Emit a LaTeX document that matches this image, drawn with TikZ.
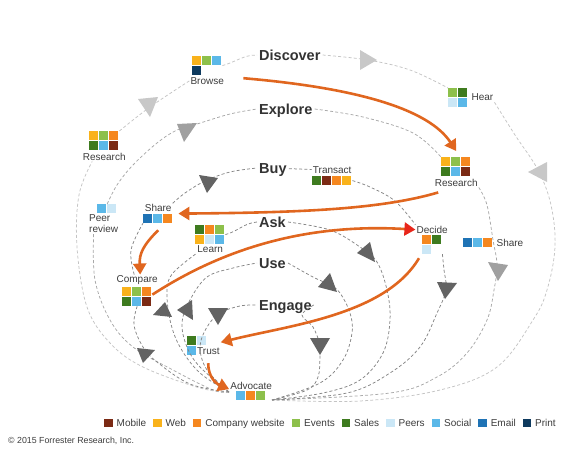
\documentclass[tikz,border=0pt]{standalone}
\usepackage{fontspec}
\setmainfont{Liberation Sans}
\usetikzlibrary{arrows.meta,positioning}

\definecolor{mob}{HTML}{7B2A14}
\definecolor{web}{HTML}{F9B21B}
\definecolor{co}{HTML}{F5871F}
\definecolor{ev}{HTML}{8DC04B}
\definecolor{sa}{HTML}{3E7B1F}
\definecolor{pe}{HTML}{CBE7F6}
\definecolor{so}{HTML}{5BB8E8}
\definecolor{em}{HTML}{1F73B5}
\definecolor{pr}{HTML}{0E3A5E}
\definecolor{jorange}{HTML}{E0661F}
\definecolor{jred}{HTML}{E8261A}
\definecolor{lbltxt}{HTML}{3C3C3C}
\definecolor{stgtxt}{HTML}{333333}
\definecolor{dlight}{HTML}{C4C4C4}
\definecolor{dmid}{HTML}{A8A8A8}
\definecolor{ddark}{HTML}{858585}
\definecolor{alight}{HTML}{C8C8C8}
\definecolor{amid}{HTML}{A0A0A0}
\definecolor{adark}{HTML}{636363}

\newcommand\sq[1]{\textcolor{#1}{\rule{8.8pt}{8.8pt}}\kern1.2pt}

\begin{document}
\begin{tikzpicture}[x=1pt,y=1pt,
  icon/.style={inner sep=0pt,anchor=north west,align=left,font=\fontsize{8}{10}\selectfont},
  lbl/.style={inner sep=1pt,text=lbltxt,font=\fontsize{10}{11}\selectfont},
  stage/.style={inner sep=2pt,anchor=west,text=stgtxt,text height=10.4pt,text depth=0pt,
    font=\fontsize{14.5}{16}\selectfont\bfseries},
  dl/.style={dash pattern=on 3pt off 2.2pt,line width=.75pt},
  jour/.style={draw=jorange,line width=2.6pt,-{Triangle[length=11pt,width=13pt]}},
  keybox/.style={inner sep=0pt,minimum size=8.6pt},
  keytxt/.style={inner sep=0pt,text height=7.2pt,text depth=0pt,text=lbltxt,font=\fontsize{10}{11}\selectfont}]
  \useasboundingbox (0,0) rectangle (570,-448);

  % channel icons
  \node[icon] (brwi)  at (192,-56)  {\sq{web}\sq{ev}\sq{so}\\\sq{pr}};
  \node[icon] (resLi) at (89,-131)  {\sq{web}\sq{ev}\sq{co}\\\sq{sa}\sq{so}\sq{mob}};
  \node[icon] (heari) at (448,-88)  {\sq{ev}\sq{sa}\\\sq{pe}\sq{so}};
  \node[icon] (resRi) at (441,-157) {\sq{web}\sq{ev}\sq{co}\\\sq{sa}\sq{so}\sq{mob}};
  \node[icon] (trni)  at (312,-176) {\sq{sa}\sq{mob}\sq{co}\sq{web}};
  \node[icon] (shLi)  at (143,-214) {\sq{em}\sq{so}\sq{co}};
  \node[icon] (peeri) at (97,-204)  {\sq{so}\sq{pe}};
  \node[icon] (lrni)  at (195,-225) {\sq{sa}\sq{co}\sq{ev}\\\sq{web}\sq{pe}\sq{so}};
  \node[icon] (cmpi)  at (122,-287) {\sq{web}\sq{ev}\sq{co}\\\sq{sa}\sq{so}\sq{mob}};
  \node[icon] (trui)  at (187,-336) {\sq{sa}\sq{pe}\\\sq{so}};
  \node[icon] (advi)  at (236,-391) {\sq{so}\sq{co}\sq{ev}};
  \node[icon] (deci)  at (422,-235) {\sq{co}\sq{sa}\\\sq{pe}};
  \node[icon] (shRi)  at (463,-238) {\sq{em}\sq{so}\sq{co}};

  \node[lbl] (brw)  [below=1pt of brwi]    {Browse};
  \node[lbl] (resL) [below=1.5pt of resLi] {Research};
  \node[lbl] (hear) [right=2pt of heari]   {Hear};
  \node[lbl] (resR) [below=1.5pt of resRi] {Research};
  \node[lbl] (trn)  [above=1pt of trni]    {Transact};
  \node[lbl] (shL)  [above=1pt of shLi]    {Share};
  \node[lbl,align=left,anchor=north west] (peer) at (88,-213) {Peer\\review};
  \node[lbl] (lrn)  [below=0pt of lrni]    {Learn};
  \node[lbl] (cmp)  [above=1pt of cmpi]    {Compare};
  \node[lbl,anchor=west] (tru) at (196,-351) {Trust};
  \node[lbl] (adv)  [above=0pt of advi]    {Advocate};
  \node[lbl] (dec)  [above=.5pt of deci]   {Decide};
  \node[lbl] (shR)  [right=2pt of shRi]    {Share};

  % stages
  \node[stage] (disc) at (257,-55)  {Discover};
  \node[stage] (expl) at (257,-109) {Explore};
  \node[stage] (buy)  at (257,-168) {Buy};
  \node[stage] (ask)  at (257,-222) {Ask};
  \node[stage] (use)  at (257,-263) {Use};
  \node[stage] (eng)  at (257,-305) {Engage};

  \coordinate (bl) at (229,-392);
  \coordinate (br) at (272,-400);

  % discover loop
  \draw[dl,dlight] plot[smooth,tension=.6] coordinates {(bl) (200,-388) (143,-367) (110,-343) (87,-307) (77,-247) (79,-195) ([xshift=-12pt]resL.south)};
  \draw[dl,dlight] plot[smooth,tension=.6] coordinates {(resLi.north east) (150,-107) (brw.west)};
  \draw[dl,dlight] (brwi.east) to[out=15,in=180] (disc.west);
  \draw[dl,dlight] plot[smooth,tension=.6] coordinates {(disc.east) (368,-60) (410,-70) (heari.north west)};
  \draw[dl,dlight] plot[smooth,tension=.6] coordinates {(hear.south east) (515,-135) (538,-170) (551,-205) (555,-247) (547,-290) (533,-320) (497,-367) (440,-390) (360,-401) (br)};
  % explore loop
  \draw[dl,dmid] plot[smooth,tension=.6] coordinates {(bl) (213,-390) (173,-370) (133,-347) (110,-320) (95,-280) ([xshift=-10pt]peer.south)};
  \draw[dl,dmid] plot[smooth,tension=.6] coordinates {(peeri.north) (117,-185) (133,-165) (157,-143) (177,-130) (197,-124) (230,-114) (expl.west)};
  \draw[dl,dmid] plot[smooth,tension=.6] coordinates {(expl.east) (363,-117) (413,-133) (resRi.north west)};
  \draw[dl,dmid] plot[smooth,tension=.6] coordinates {(resR.south east) (487,-205) (493,-240) (497,-265) (494,-290) (487,-320) (467,-353) (437,-377) (390,-393) (br)};
  % buy loop
  \draw[dl,ddark] plot[smooth,tension=.6] coordinates {(bl) (190,-384) (157,-362) (143,-347) (134,-325) (cmpi.south)};
  \draw[dl,ddark] plot[smooth,tension=.6] coordinates {([xshift=-3pt]cmp.north) (131,-250) (shLi.south west)};
  \draw[dl,ddark] plot[smooth,tension=.6] coordinates {(shL.north east) (185,-193) (205,-181) (230,-172) (buy.west)};
  \draw[dl,ddark] (buy) -- (trn);
  \draw[dl,ddark] plot[smooth,tension=.6] coordinates {(trni.east) (370,-187) (395,-201) (dec.north west)};
  \draw[dl,ddark] plot[smooth,tension=.6] coordinates {(deci.south east) (444,-270) (446,-290) (437,-313) (420,-347) (390,-373) (347,-393) (br)};
  % ask loop
  \draw[dl,ddark] plot[smooth,tension=.6] coordinates {(bl) (200,-373) (180,-347) (170,-320) (167,-290) (173,-273) (lrn.south west)};
  \draw[dl,ddark] (lrni.east) to[out=15,in=185] (ask.west);
  \draw[dl,ddark] plot[smooth,tension=.6] coordinates {(ask.east) (330,-230) (360,-247) (377,-262) (387,-290) (390,-320) (383,-353) (360,-380) (323,-393) (br)};
  % use loop
  \draw[dl,ddark] plot[smooth,tension=.6] coordinates {(bl) (200,-367) (187,-347) (182,-323) (190,-300) (207,-277) (233,-268) (use.west)};
  \draw[dl,ddark] plot[smooth,tension=.6] coordinates {(use.east) (313,-277) (330,-285) (340,-293) (350,-313) (352,-333) (343,-360) (320,-383) (br)};
  % engage loop
  \draw[dl,ddark] plot[smooth,tension=.6] coordinates {(bl) (207,-370) (200,-347) (207,-327) (220,-313) (240,-306) (eng.west)};
  \draw[dl,ddark] plot[smooth,tension=.6] coordinates {(eng.east) (302,-315) (313,-327) (320,-345) (320,-357) (318,-377) (307,-390) (br)};

  % arrowheads on the loops
  \fill[alight] (138,-99) -- (158,-97) -- (150,-117) -- cycle;
  \fill[alight] (360,-50) -- (377,-60) -- (360,-70) -- cycle;
  \fill[alight] (528,-172) -- (547,-162) -- (547,-182) -- cycle;
  \fill[amid] (177,-124) -- (197,-123) -- (184,-142) -- cycle;
  \fill[amid] (488,-262) -- (508,-265) -- (498,-281) -- cycle;
  \fill[adark] (199,-175) -- (218,-178) -- (207,-193) -- cycle;
  \fill[adark] (137,-348) -- (155,-350) -- (143,-363) -- cycle;
  \fill[adark] (437,-282) -- (457,-283) -- (445,-299) -- cycle;
  \fill[adark] (357,-253) -- (370,-242) -- (375,-262) -- cycle;
  \fill[adark] (153,-315) -- (165,-302) -- (172,-317) -- cycle;
  \fill[adark] (177,-310) -- (192,-300) -- (193,-320) -- cycle;
  \fill[adark] (318,-287) -- (330,-273) -- (337,-292) -- cycle;
  \fill[adark] (208,-308) -- (228,-308) -- (218,-325) -- cycle;
  \fill[adark] (310,-338) -- (330,-338) -- (320,-355) -- cycle;

  % the journey
  \draw[jour] ([shift={(21pt,-3pt)}]brwi.south east) .. controls +(117,-10) and +(-27,41) .. ([yshift=6pt]resRi.north);
  \draw[jour] ([shift={(-18pt,-5pt)}]resR.south) .. controls +(-58,-17) and +(121,1) .. ([shift={(5pt,5pt)}]shLi.east);
  \draw[jour] ([yshift=-7pt]shLi.south) .. controls +(-15,-15) and +(-1,21) .. ([xshift=3pt]cmp.north);
  \draw[jour,-{Triangle[length=11pt,width=13pt,color=jred]}] ([yshift=2pt]cmpi.east) .. controls +(77,50) and +(-102,6) .. (dec.west);
  \draw[jour] ([shift={(-3pt,-4pt)}]deci.south west) .. controls +(-34,-57) and +(68,17) .. ([yshift=4pt]tru.north east);
  \draw[jour] ([shift={(11pt,-8pt)}]trui.south) .. controls +(0,-13) and +(-14,6) .. ([yshift=-3pt]adv.west);

  % legend
  \node[keybox,fill=mob] (kmob) at (108.5,-423) {};
  \node[keytxt] (tmob) [right=3.5pt of kmob] {Mobile};
  \node[keybox,fill=web] (kweb) [right=6.5pt of tmob] {};
  \node[keytxt] (tweb) [right=3.5pt of kweb] {Web};
  \node[keybox,fill=co] (kco) [right=6.5pt of tweb] {};
  \node[keytxt] (tco) [right=3.5pt of kco] {Company website};
  \node[keybox,fill=ev] (kev) [right=6.5pt of tco] {};
  \node[keytxt] (tev) [right=3.5pt of kev] {Events};
  \node[keybox,fill=sa] (ksa) [right=6.5pt of tev] {};
  \node[keytxt] (tsa) [right=3.5pt of ksa] {Sales};
  \node[keybox,fill=pe] (kpe) [right=6.5pt of tsa] {};
  \node[keytxt] (tpe) [right=3.5pt of kpe] {Peers};
  \node[keybox,fill=so] (kso) [right=6.5pt of tpe] {};
  \node[keytxt] (tso) [right=3.5pt of kso] {Social};
  \node[keybox,fill=em] (kem) [right=6.5pt of tso] {};
  \node[keytxt] (tem) [right=3.5pt of kem] {Email};
  \node[keybox,fill=pr] (kpr) [right=6.5pt of tem] {};
  \node[keytxt] (tpr) [right=3.5pt of kpr] {Print};

  \node[inner sep=0pt,anchor=west,text=lbltxt,font=\fontsize{8.8}{10}\selectfont] (copy) at (8,-441) {© 2015 Forrester Research, Inc.};
\end{tikzpicture}
\end{document}
